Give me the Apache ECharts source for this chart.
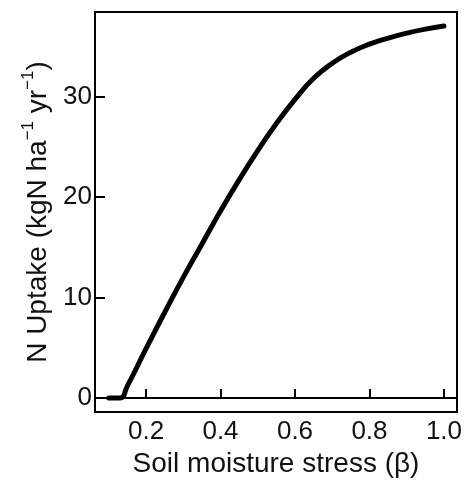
<!DOCTYPE html>
<html>
<head>
<meta charset="utf-8">
<script src="https://cdn.jsdelivr.net/npm/echarts@6/dist/echarts.min.js"></script>
<style>html,body{margin:0;padding:0;background:#fff}#c{width:469px;height:484px}</style>
</head>
<body>
<div id="c"></div>
<script>
const beta = [0.10,0.13,0.15,0.20,0.25,0.30,0.35,0.40,0.45,0.50,0.55,0.60,0.65,0.70,0.75,0.80,0.85,0.90,0.95,1.00];
const uptake = [0,0,1.2,4.9,8.5,12.0,15.3,18.6,21.7,24.6,27.3,29.7,31.8,33.3,34.4,35.2,35.8,36.3,36.7,37.0];
const xTicks = [0.2,0.4,0.6,0.8,1.0];
const yTicks = [0,10,20,30];

const chart = echarts.init(document.getElementById('c'));
const font = 'Liberation Sans, Arial, sans-serif';
chart.setOption({
  animation:false,
  backgroundColor:'#fff',
  grid:{left:95,right:12,top:12,bottom:72,show:true,borderColor:'#000',borderWidth:2,backgroundColor:'transparent'},
  xAxis:{
    type:'value',min:0.063,max:1.035,
    name:'Soil moisture stress (β)',nameLocation:'middle',nameGap:35,
    nameTextStyle:{fontFamily:font,fontSize:28,color:'#111'},
    axisLine:{show:true,lineStyle:{color:'#000',width:2}},
    axisTick:{show:true,inside:true,length:9,lineStyle:{color:'#000',width:2},customValues:xTicks},
    axisLabel:{fontFamily:font,fontSize:26,color:'#111',margin:7,customValues:xTicks,formatter:v=>v.toFixed(1)},
    splitLine:{show:false}
  },
  yAxis:{
    type:'value',min:-1.4,max:38.4,
    name:'{a|N Uptake (kgN ha}{s|−1}{a| yr}{s|−1}{a|)}',nameLocation:'middle',nameGap:40,
    nameTextStyle:{fontFamily:font,fontSize:28,color:'#111',
      rich:{a:{fontFamily:font,fontSize:28,color:'#111',lineHeight:32,verticalAlign:'bottom'},
            s:{fontFamily:font,fontSize:17,color:'#111',lineHeight:32,verticalAlign:'top'}}},
    axisLine:{show:true,lineStyle:{color:'#000',width:2}},
    axisTick:{show:true,inside:true,length:10,lineStyle:{color:'#000',width:2},customValues:yTicks},
    axisLabel:{fontFamily:font,fontSize:26,color:'#111',margin:3,customValues:yTicks},
    splitLine:{show:false}
  },
  series:[{
    type:'line',data:beta.map((b,i)=>[b,uptake[i]]),smooth:0.5,showSymbol:false,
    lineStyle:{color:'#000',width:5,cap:'round',join:'round'}
  }]
});
</script>
</body>
</html>
